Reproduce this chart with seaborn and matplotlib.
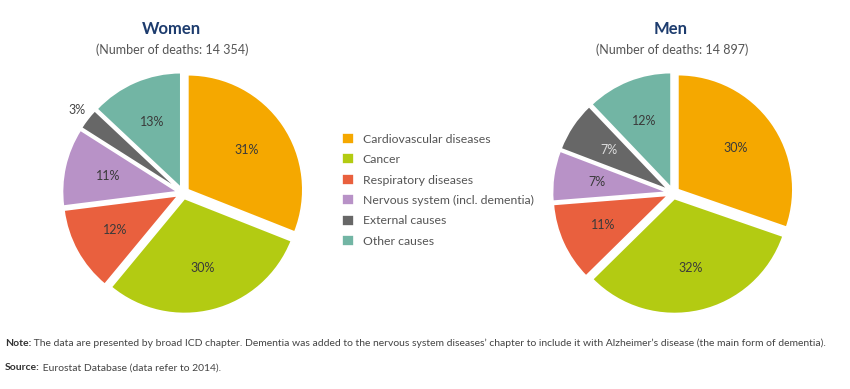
import numpy as np
import matplotlib.pyplot as plt
import seaborn as sns

causes = ['Cardiovascular diseases', 'Cancer', 'Respiratory diseases',
          'Nervous system (incl. dementia)', 'External causes', 'Other causes']
women_share = [31, 30, 12, 11, 3, 13]
men_share = [30, 32, 11, 7, 7, 12]
women_deaths = '14 354'
men_deaths = '14 897'

colors = sns.color_palette(['#F5A800', '#B3CB12', '#E9603E', '#B892C7', '#676767', '#72B5A4'])

sns.set_style('white')
plt.rcParams['font.family'] = ['Lato', 'DejaVu Sans']

fig = plt.figure(figsize=(8.5, 3.89), dpi=100)


def draw_pie(ax, values):
    wedges, texts, autotexts = ax.pie(
        values, colors=colors, startangle=90, counterclock=False,
        explode=[0.05] * len(values), autopct='%d%%', pctdistance=0.62,
        wedgeprops=dict(edgecolor='white', linewidth=1.2),
        textprops=dict(fontsize=9, color='#3a3a3a'))
    for w, t, v in zip(wedges, autotexts, values):
        r, g, b, _ = w.get_facecolor()
        if v < 5:
            # small slice: put the label outside
            ang = np.deg2rad((w.theta1 + w.theta2) / 2)
            cx, cy = w.center
            t.set_position((cx + 1.12 * np.cos(ang), cy + 1.12 * np.sin(ang)))
            t.set_color('#444444')
        elif 0.3 * r + 0.59 * g + 0.11 * b < 0.45:
            t.set_color('#dddddd')
    ax.set_xlim(-1.13, 1.13)
    ax.set_ylim(-1.13, 1.13)
    ax.set_aspect('equal')
    ax.axis('off')
    return wedges


ax_w = fig.add_axes([0.0624, 0.170, 0.306, 0.668])
wedges = draw_pie(ax_w, women_share)
ax_m = fig.add_axes([0.639, 0.170, 0.306, 0.668])
draw_pie(ax_m, men_share)

fig.text(171 / 850, 1 - 29 / 389, 'Women', ha='center', va='center',
         fontsize=12, fontweight='bold', color='#1D3C6E')
fig.text(172 / 850, 1 - 50 / 389, f'(Number of deaths: {women_deaths})', ha='center',
         va='center', fontsize=9, color='#555555')
fig.text(671 / 850, 1 - 29 / 389, 'Men', ha='center', va='center',
         fontsize=12, fontweight='bold', color='#1D3C6E')
fig.text(672 / 850, 1 - 50 / 389, f'(Number of deaths: {men_deaths})', ha='center',
         va='center', fontsize=9, color='#555555')

fig.legend(wedges, causes, loc='upper left', bbox_to_anchor=(331 / 850, 1 - 122 / 389),
           frameon=False, fontsize=8.8, handlelength=1.0, handleheight=1.0,
           handletextpad=0.7, labelspacing=0.72, labelcolor='#555555')

# footnotes: bold lead word followed by normal text
renderer = fig.canvas.get_renderer()
for y, lead, body, size in [
        (343, 'Note:', ' The data are presented by broad ICD chapter. Dementia was added to the nervous '
         'system diseases\u2019 chapter to include it with Alzheimer\u2019s disease (the main form of dementia).', 7.5),
        (368, 'Source:', ' Eurostat Database (data refer to 2014).', 7.5)]:
    t = fig.text(5 / 850, 1 - y / 389, lead, fontsize=size, fontweight='bold', va='center', color='#333333')
    x1 = t.get_window_extent(renderer).x1
    fig.text(x1 / 850, 1 - y / 389, body, fontsize=size, va='center', color='#444444')

fig.savefig('out.png', dpi=100, facecolor='white')
